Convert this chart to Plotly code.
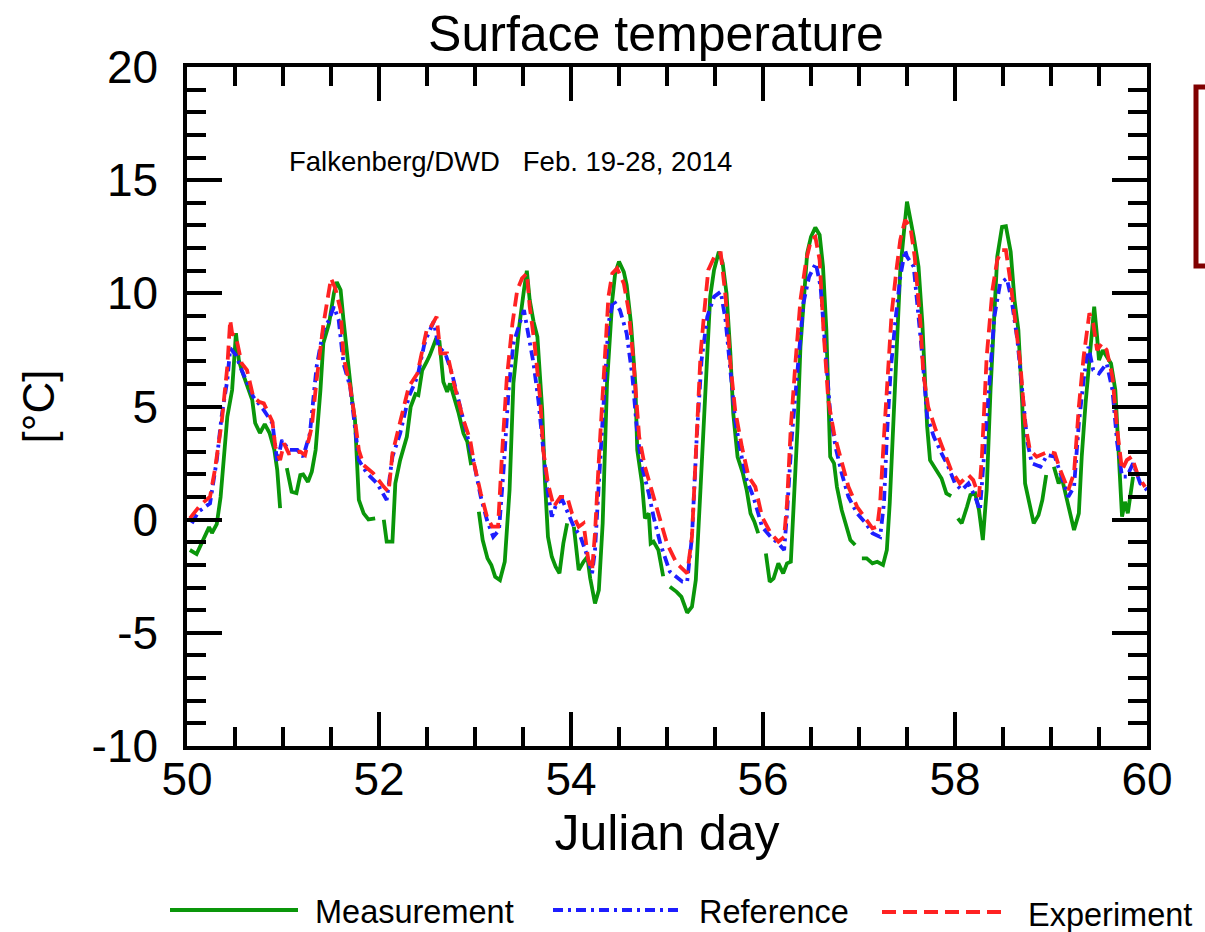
import plotly.graph_objects as go

# ---------------- data ----------------
meas_x = [50.03, 50.10, 50.23, 50.26, 50.31, 50.35, 50.42, 50.47, 50.51, 50.54, 50.57, 50.68, 50.71, 50.76, 50.81, 50.86, 50.91, 50.94, 50.97, 51.00,
          51.04, 51.09, 51.14, 51.18, 51.21, 51.26, 51.30, 51.34, 51.39, 51.42, 51.48, 51.53, 51.56, 51.60, 51.63, 51.67, 51.72, 51.75, 51.79, 51.84, 51.89, 51.96, 52.00,
          52.05, 52.08, 52.14, 52.17, 52.22, 52.29, 52.33, 52.38, 52.41, 52.45, 52.50, 52.53, 52.59, 52.63, 52.67, 52.71, 52.74, 52.83, 52.88, 52.92, 52.96, 53.00,
          53.04, 53.08, 53.13, 53.17, 53.21, 53.26, 53.31, 53.36, 53.40, 53.46, 53.51, 53.54, 53.57, 53.61, 53.65, 53.70, 53.73, 53.76, 53.80, 53.84, 53.88, 53.92, 53.96, 54.00,
          54.03, 54.08, 54.13, 54.17, 54.20, 54.25, 54.29, 54.33, 54.375, 54.43, 54.46, 54.50, 54.55, 54.58, 54.625, 54.67, 54.69, 54.74, 54.77, 54.81, 54.83, 54.86, 54.91, 54.96, 55.00,
          55.03, 55.10, 55.15, 55.21, 55.26, 55.30, 55.35, 55.39, 55.42, 55.45, 55.49, 55.54, 55.58, 55.62, 55.66, 55.69, 55.735, 55.79, 55.83, 55.87, 55.91, 55.95, 56.00,
          56.03, 56.07, 56.11, 56.16, 56.21, 56.25, 56.29, 56.32, 56.36, 56.39, 56.43, 56.46, 56.50, 56.545, 56.59, 56.625, 56.66, 56.68, 56.70, 56.74, 56.77, 56.82, 56.875, 56.91, 56.96, 57.00,
          57.03, 57.08, 57.14, 57.19, 57.25, 57.29, 57.32, 57.36, 57.40, 57.43, 57.47, 57.50, 57.57, 57.62, 57.66, 57.69, 57.71, 57.74, 57.80, 57.86, 57.91, 57.96, 58.00,
          58.03, 58.07, 58.125, 58.16, 58.21, 58.25, 58.29, 58.33, 58.37, 58.41, 58.44, 58.49, 58.53, 58.58, 58.62, 58.66, 58.70, 58.73, 58.78, 58.82, 58.87, 58.91, 58.95, 59.00,
          59.03, 59.08, 59.11, 59.17, 59.20, 59.24, 59.29, 59.32, 59.36, 59.41, 59.45, 59.48, 59.50, 59.54, 59.58, 59.625, 59.67, 59.70, 59.74, 59.77, 59.80, 59.855]
meas_y = [-1.34, -1.52, -0.33, -0.59, -0.20, 1.00, 4.55, 5.73, 8.24, 7.05, 6.60, 5.28, 4.27, 3.83, 4.22, 3.83, 3.08, 2.20, 0.51, None,
          2.28, 1.23, 1.17, 1.97, 2.00, 1.67, 2.12, 3.08, 5.73, 7.80, 8.68, 10.00, 10.50, 10.15, 8.82, 7.20, 5.28, 4.40, 0.87, 0.28, 0.01, 0.06, None,
          0.00, -0.97, -0.97, 1.60, 2.63, 3.66, 4.99, 5.55, 5.50, 6.60, 7.00, 7.27, 7.94, 7.86, 6.09, 5.65, 6.02, 4.70, 3.81, 3.44, 2.41, None,
          0.35, -0.90, -1.71, -2.00, -2.52, -2.67, -1.86, 1.31, 6.02, 8.52, 10.15, 11.00, 9.70, 8.75, 8.08, 4.84, 1.60, -0.76, -1.64, -2.08, -2.37, -1.05, -0.16, None,
          -0.31, -2.23, -1.86, -1.64, -2.59, -3.70, -3.11, -0.16, 6.02, 9.70, 10.88, 11.40, 10.95, 10.37, 8.67, 6.02, 3.08, 1.60, 0.06, 0.28, -1.05, -0.97, -1.34, -2.50, None,
          -2.96, -3.19, -3.41, -4.11, -3.85, -2.67, 1.45, 5.14, 7.94, 9.85, 11.03, 11.84, 11.33, 10.00, 7.35, 4.70, 2.78, 2.05, 1.31, 0.28, -0.09, -0.60, None,
          -1.49, -2.74, -2.60, -1.93, -2.37, -1.93, -1.86, 0.72, 4.11, 7.64, 10.00, 11.77, 12.50, 12.91, 12.58, 11.18, 8.38, 5.87, 2.78, 2.49, 1.45, 0.42, -0.31, -0.90, -1.12, None,
          -1.71, -1.71, -1.93, -1.86, -2.00, -1.34, 0.72, 4.40, 8.08, 11.03, 12.80, 14.05, 12.50, 11.18, 8.67, 5.73, 4.11, 2.63, 2.19, 1.82, 1.16, 1.04, None,
          0.06, -0.16, 0.57, 1.09, 1.16, 0.42, -0.90, 1.31, 5.73, 9.41, 11.62, 12.94, 12.97, 11.84, 9.70, 8.38, 5.14, 1.60, 0.72, -0.16, 0.20, 0.87, 1.97, None,
          2.34, 1.60, 1.90, 0.72, 0.13, -0.46, 0.28, 2.78, 5.14, 7.64, 9.41, 8.08, 7.05, 7.49, 7.20, 6.90, 5.73, 3.52, 0.13, 0.79, 0.28, 1.90]

ref_x = [50.05, 50.12, 50.24, 50.31, 50.36, 50.42, 50.45, 50.51, 50.57, 50.64, 50.69, 50.80, 50.89, 50.94, 50.99, 51.06, 51.15, 51.21, 51.28, 51.35, 51.42, 51.48, 51.53, 51.58, 51.63, 51.70, 51.75, 51.79, 51.875, 51.98, 52.08,
         52.14, 52.22, 52.31, 52.40, 52.47, 52.50, 52.57, 52.62, 52.69, 52.76, 52.83, 52.92, 52.99, 53.06, 53.125, 53.19, 53.25, 53.30, 53.35, 53.40, 53.46, 53.51, 53.56, 53.61, 53.66, 53.70, 53.75, 53.80, 53.85, 53.91, 53.97,
         54.03, 54.10, 54.16, 54.22, 54.25, 54.29, 54.34, 54.39, 54.44, 54.51, 54.58, 54.64, 54.69, 54.74, 54.81, 54.86, 54.93, 54.98, 55.03, 55.16, 55.21, 55.26, 55.31, 55.36, 55.42, 55.49, 55.56, 55.61, 55.66, 55.71, 55.77, 55.83, 55.90, 55.99,
         56.08, 56.16, 56.22, 56.25, 56.30, 56.37, 56.42, 56.48, 56.55, 56.60, 56.65, 56.70, 56.755, 56.82, 56.89, 56.98, 57.07, 57.14, 57.22, 57.26, 57.29, 57.33, 57.38, 57.43, 57.48, 57.50, 57.57, 57.62, 57.66, 57.71, 57.78, 57.86, 57.93,
         58.00, 58.07, 58.14, 58.21, 58.26, 58.30, 58.36, 58.41, 58.47, 58.54, 58.59, 58.65, 58.70, 58.75, 58.80, 58.89, 58.96, 59.04, 59.11, 59.18, 59.24, 59.29, 59.34, 59.39, 59.44, 59.50, 59.58, 59.64, 59.69, 59.74, 59.79, 59.855, 59.93, 60.00]
ref_y = [-0.16, 0.35, 0.72, 2.63, 4.55, 6.17, 7.57, 7.27, 6.60, 5.87, 5.43, 4.84, 4.26, 2.56, 3.52, 3.08, 3.08, 2.78, 3.81, 6.76, 8.38, 8.82, 9.41, 8.82, 6.90, 5.87, 4.11, 2.63, 2.05, 1.60, 0.87,
         2.78, 3.81, 5.43, 6.31, 7.71, 8.08, 8.75, 7.64, 7.35, 6.46, 5.28, 3.81, 2.49, 1.01, -0.02, -0.76, -0.46, 2.34, 5.73, 7.79, 8.67, 9.26, 8.08, 6.90, 5.28, 3.52, 1.45, 0.13, 0.72, 0.87, 0.28,
         -0.31, -0.76, -1.49, -2.37, -1.34, 1.60, 5.28, 8.67, 9.70, 9.26, 8.23, 6.31, 3.81, 2.34, 1.16, 0.13, -1.05, -1.64, -2.30, -2.74, -2.74, -0.76, 3.66, 7.05, 8.97, 9.85, 10.07, 8.82, 6.61, 4.40, 2.93, 1.75, 1.01, -0.31,
         -0.76, -1.05, -1.34, 0.28, 3.66, 7.05, 9.55, 10.73, 11.33, 10.29, 7.64, 4.70, 3.22, 2.05, 1.01, 0.28, -0.16, -0.60, -0.76, 0.72, 3.66, 6.61, 8.82, 10.73, 11.91, 11.62, 11.18, 8.97, 7.20, 4.55, 3.66, 2.93, 2.34,
         1.60, 1.31, 1.60, 1.01, 0.42, 2.78, 6.31, 8.97, 10.44, 10.66, 9.70, 7.94, 5.73, 3.52, 2.49, 2.34, 2.85, 2.78, 1.90, 1.01, 1.45, 4.26, 6.17, 7.64, 6.61, 6.46, 6.90, 5.73, 3.37, 1.90, 1.90, 2.49, 1.60, 1.31]

exp_x = [50.03, 50.14, 50.24, 50.29, 50.36, 50.42, 50.45, 50.47, 50.51, 50.57, 50.625, 50.69, 50.75, 50.80, 50.89, 50.92, 50.97, 51.01, 51.06, 51.18, 51.23, 51.30, 51.35, 51.42, 51.48, 51.50, 51.545, 51.60, 51.63, 51.70, 51.75, 51.79, 51.84, 51.94, 52.05, 52.10,
         52.14, 52.22, 52.31, 52.40, 52.50, 52.53, 52.60, 52.64, 52.71, 52.78, 52.88, 52.95, 52.99, 53.06, 53.125, 53.18, 53.24, 53.28, 53.33, 53.39, 53.44, 53.49, 53.54, 53.57, 53.62, 53.68, 53.71, 53.76, 53.82, 53.89, 53.96,
         54.01, 54.08, 54.13, 54.18, 54.22, 54.25, 54.29, 54.34, 54.39, 54.43, 54.48, 54.55, 54.60, 54.65, 54.71, 54.77, 54.86, 54.93, 55.00, 55.10, 55.21, 55.26, 55.31, 55.35, 55.39, 55.43, 55.51, 55.56, 55.61, 55.66, 55.71, 55.78, 55.85, 55.92, 55.99,
         56.08, 56.16, 56.22, 56.25, 56.29, 56.34, 56.39, 56.45, 56.50, 56.545, 56.59, 56.63, 56.68, 56.74, 56.82, 56.89, 56.98, 57.07, 57.14, 57.19, 57.22, 57.26, 57.30, 57.34, 57.39, 57.43, 57.48, 57.535, 57.58, 57.64, 57.67, 57.72, 57.80, 57.88, 57.96,
         58.05, 58.14, 58.19, 58.25, 58.28, 58.33, 58.39, 58.44, 58.49, 58.53, 58.58, 58.63, 58.68, 58.73, 58.78, 58.85, 58.92, 58.97, 59.04, 59.09, 59.18, 59.24, 59.29, 59.34, 59.40, 59.44, 59.48, 59.53, 59.58, 59.64, 59.69, 59.74, 59.79, 59.84, 59.91, 59.98]
exp_y = [0.06, 0.65, 1.01, 2.19, 4.26, 6.76, 8.82, 8.23, 8.08, 6.90, 6.61, 5.43, 5.21, 5.14, 4.33, 3.22, 2.63, 3.37, 2.93, 3.00, 2.85, 4.11, 6.17, 8.60, 10.15, 10.66, 10.22, 9.26, 7.20, 5.87, 4.40, 3.08, 2.41, 2.05, 1.45, 1.23,
         2.93, 4.26, 5.87, 6.46, 8.45, 8.45, 8.97, 7.35, 7.35, 6.02, 4.40, 3.52, 2.49, 1.16, 0.13, -0.31, -0.31, 2.78, 6.17, 8.67, 10.15, 10.66, 10.88, 9.41, 7.79, 5.28, 3.08, 1.60, 0.57, 1.01, 1.01,
         0.28, -0.31, -0.16, -1.78, -2.23, -0.60, 2.63, 6.31, 9.85, 10.88, 11.10, 10.44, 9.26, 7.05, 3.66, 2.34, 1.01, -0.16, -1.05, -1.93, -2.37, -0.76, 3.66, 7.35, 9.26, 11.03, 11.77, 11.77, 9.85, 6.90, 4.84, 3.22, 1.90, 1.45, 0.13,
         -0.60, -0.97, -0.76, 0.72, 4.11, 7.05, 9.70, 11.47, 12.36, 12.50, 11.47, 8.38, 5.28, 3.81, 2.49, 1.45, 0.57, 0.06, -0.38, -0.31, 0.72, 3.66, 6.61, 9.12, 11.03, 12.36, 13.24, 12.94, 11.62, 8.67, 6.46, 4.99, 3.96, 3.08, 2.19,
         1.60, 1.97, 1.75, 1.01, 2.78, 7.20, 10.15, 11.47, 11.91, 11.91, 10.44, 8.67, 6.90, 4.26, 3.08, 2.78, 2.93, 3.00, 2.93, 2.27, 1.31, 2.05, 4.99, 7.20, 9.12, 8.67, 7.49, 7.79, 7.49, 6.31, 3.96, 2.19, 2.63, 2.78, 1.90, 1.45]

series_names = ["Measurement", "Reference", "Experiment"]
x_tick_vals = [50, 52, 54, 56, 58, 60]
x_tick_text = ["50", "52", "54", "56", "58", "60"]
y_tick_vals = [-10, -5, 0, 5, 10, 15, 20]
y_tick_text = ["-10", "-5", "0", "5", "10", "15", "20"]

# ---------------- styling ----------------
GREEN = "#0a960a"
BLUE = "#1e1eff"
RED = "#ff2222"
FONT = "Liberation Sans"
LW = 3.8
DASH_BLUE = "10px,5px,3px,5px"
DASH_RED = "14px,7px"

fig = go.Figure()
fig.add_trace(go.Scatter(x=meas_x, y=meas_y, mode="lines", name=series_names[0],
                         line=dict(color=GREEN, width=LW), connectgaps=False))
fig.add_trace(go.Scatter(x=ref_x, y=ref_y, mode="lines", name=series_names[1],
                         line=dict(color=BLUE, width=LW, dash=DASH_BLUE)))
fig.add_trace(go.Scatter(x=exp_x, y=exp_y, mode="lines", name=series_names[2],
                         line=dict(color=RED, width=LW, dash=DASH_RED)))

axis_common = dict(showline=True, linecolor="black", linewidth=3.5, mirror="allticks",
                   ticks="inside", tickcolor="black", tickwidth=3.5, showgrid=False, zeroline=False,
                   tickfont=dict(family=FONT, size=46, color="black"))

fig.update_xaxes(range=[50, 60], tickvals=x_tick_vals, ticktext=x_tick_text, ticklen=34,
                 minor=dict(dtick=0.5, ticklen=19, tickwidth=3.5, tickcolor="black", ticks="inside"),
                 title=dict(text="Julian day", font=dict(family=FONT, size=50, color="black"), standoff=0),
                 ticklabelstandoff=-10, **axis_common)
fig.update_yaxes(range=[-10, 20], tickvals=y_tick_vals, ticktext=y_tick_text, ticklen=35,
                 minor=dict(dtick=1, ticklen=19, tickwidth=3.5, tickcolor="black", ticks="inside"),
                 title=dict(text="[°C]", font=dict(family=FONT, size=44, color="black"), standoff=24),
                 ticklabelstandoff=16, **axis_common)

fig.update_layout(
    width=1205, height=932,
    margin=dict(l=187, r=58, t=67, b=186),
    paper_bgcolor="white", plot_bgcolor="white",
    showlegend=False,
    title=dict(text="Surface temperature", x=656 / 1205, xanchor="center", xref="container",
               y=1 - 33 / 932, yanchor="middle", yref="container",
               font=dict(family=FONT, size=50, color="black")),
)

# station annotation
fig.add_annotation(text="Falkenberg/DWD   Feb. 19-28, 2014", xref="paper", yref="paper",
                   x=(287 - 187) / 960, y=(746 - 162) / 679, xanchor="left", yanchor="middle",
                   showarrow=False, font=dict(family=FONT, size=27.5, color="black"))

# custom legend below plot (paper coordinates)
def py(pix):
    return (746 - pix) / 679

def px(pix):
    return (pix - 187) / 960

legend_items = [
    (series_names[0], GREEN, "solid", 170, 298, 910, 314, 912),
    (series_names[1], BLUE, DASH_BLUE, 553, 681, 910, 698, 912),
    (series_names[2], RED, DASH_RED, 882, 1002, 912, 1027, 915),
]
for name, col, dash, lx0, lx1, ly, tx, ty in legend_items:
    fig.add_shape(type="line", xref="paper", yref="paper", x0=px(lx0), x1=px(lx1), y0=py(ly), y1=py(ly),
                  line=dict(color=col, width=LW, dash=dash))
    fig.add_annotation(text=name, xref="paper", yref="paper", x=px(tx), y=py(ty), xanchor="left",
                       yanchor="middle", showarrow=False, borderpad=0,
                       font=dict(family=FONT, size=32.5, color="black"))

# dark red bracket at right edge (partially cut off)
fig.add_shape(type="rect", xref="paper", yref="paper", x0=px(1196), x1=px(1260), y0=py(266), y1=py(87),
              line=dict(color="#800000", width=5), fillcolor="rgba(0,0,0,0)")

fig.write_html("out.html")
